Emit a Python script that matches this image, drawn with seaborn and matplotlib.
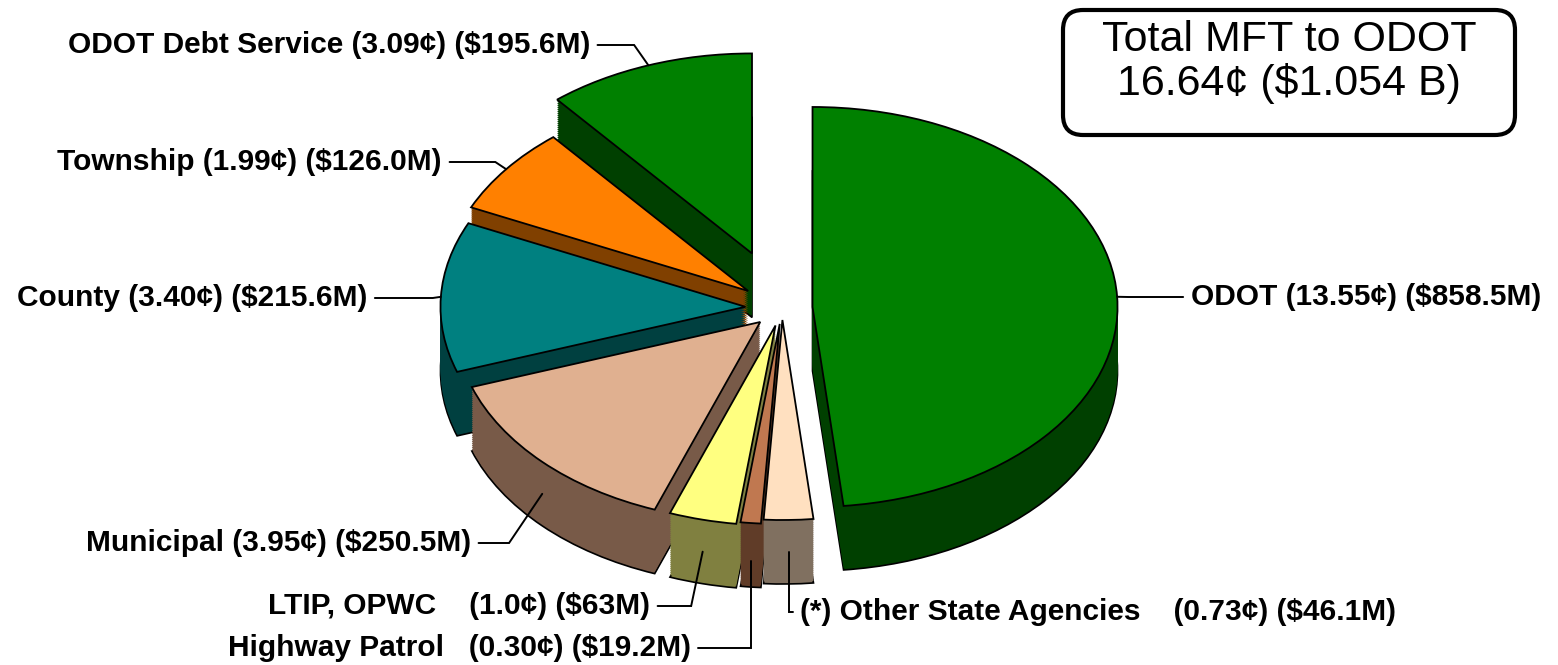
import numpy as np
import matplotlib
matplotlib.use("Agg")
import matplotlib.pyplot as plt
from matplotlib.patches import FancyBboxPatch
import seaborn as sns

# slices, clockwise from 12 o'clock
slice_names = ["ODOT", "Other State Agencies", "Highway Patrol", "LTIP, OPWC",
               "Municipal", "County", "Township", "ODOT Debt Service"]
cents = [13.55, 0.73, 0.30, 1.0, 3.95, 3.40, 1.99, 3.09]
label_text = ["ODOT (13.55¢) ($858.5M)",
              "(*) Other State Agencies    (0.73¢) ($46.1M)",
              "Highway Patrol   (0.30¢) ($19.2M)",
              "LTIP, OPWC    (1.0¢) ($63M)",
              "Municipal (3.95¢) ($250.5M)",
              "County (3.40¢) ($215.6M)",
              "Township (1.99¢) ($126.0M)",
              "ODOT Debt Service (3.09¢) ($195.6M)"]
total_text = "Total MFT to ODOT\n16.64¢ ($1.054 B)"

# styling
top_colors = ["#008000", "#FFE0C0", "#C07850", "#FFFF80",
              "#E0B090", "#008080", "#FF8000", "#008000"]
side_colors = ["#004000", "#807060", "#603C28", "#808040",
               "#785A48", "#004040", "#804000", "#004000"]
explode = [0.10, 0.06, 0.08, 0.09, 0.10, 0.12, 0.14, 0.29]
depth = 0.32

# label layout: text x, y, alignment, anchor depth fraction, elbow length (None = vertical drop)
label_pos = [(1.34, 0.055, "left", 0.0, 0.18),
             (0.06, -1.52, "left", 0.5, None),
             (-0.30, -1.70, "right", 0.6, None),
             (-0.433, -1.49, "right", 0.5, 0.11),
             (-1.02, -1.175, "right", 0.5, 0.10),
             (-1.36, 0.05, "right", 0.0, 0.19),
             (-1.115, 0.73, "right", 0.0, 0.15),
             (-0.63, 1.315, "right", 0.0, 0.12)]

sns.set_theme(style="white")
plt.rcParams["font.family"] = ["Liberation Sans", "DejaVu Sans"]
plt.rcParams["text.color"] = "black"

fig = plt.figure(figsize=(15.58, 6.65), dpi=100)
ax = fig.add_axes([0, 0, 1, 1])

# extruded side: stack darker copies of the pie downward
n_layers = 32
for k in range(n_layers, 0, -1):
    dz = depth * k / n_layers
    ax.pie(cents, explode=explode, colors=side_colors, startangle=90,
           counterclock=False, center=(0, -dz),
           wedgeprops=dict(linewidth=1.2 if k == n_layers else 0,
                           edgecolor="black"))

# top face
ax.pie(cents, explode=explode, colors=top_colors, startangle=90,
       counterclock=False, wedgeprops=dict(linewidth=1.3, edgecolor="black"))

ax.set_aspect("auto")
ax.set_xlim(-2.564, 2.544)
ax.set_ylim(-1.785, 1.54)
ax.axis("off")

# labels with leader lines
total = sum(cents)
cum = 0.0
gap = 0.025
for v, e, txt, (tx, ty, ha, frac, elbow) in zip(cents, explode, label_text, label_pos):
    mid = np.deg2rad(90 - (cum + v / 2) / total * 360)
    cum += v
    axp = (1 + e) * np.cos(mid)
    ayp = (1 + e) * np.sin(mid) - frac * depth
    ax.text(tx, ty, txt, ha=ha, va="center", fontsize=21.5, fontweight="bold",
            color="black")
    x0 = tx + gap if ha == "right" else tx - gap
    if elbow is None:
        ex = axp
    else:
        ex = x0 + elbow if ha == "right" else x0 - elbow
    ax.plot([x0, ex, axp], [ty, ty, ayp], color="black", lw=1.4,
            solid_joinstyle="miter")

box = FancyBboxPatch((10.63, 5.30), 4.52, 1.25,
                     boxstyle="round,pad=0,rounding_size=0.2",
                     transform=fig.dpi_scale_trans, facecolor="white",
                     edgecolor="black", linewidth=3)
fig.add_artist(box)
fig.text(0.8274, 0.907, total_text, ha="center", va="center", fontsize=31,
         color="black", linespacing=1.1)

fig.savefig("out.png", dpi=100)
